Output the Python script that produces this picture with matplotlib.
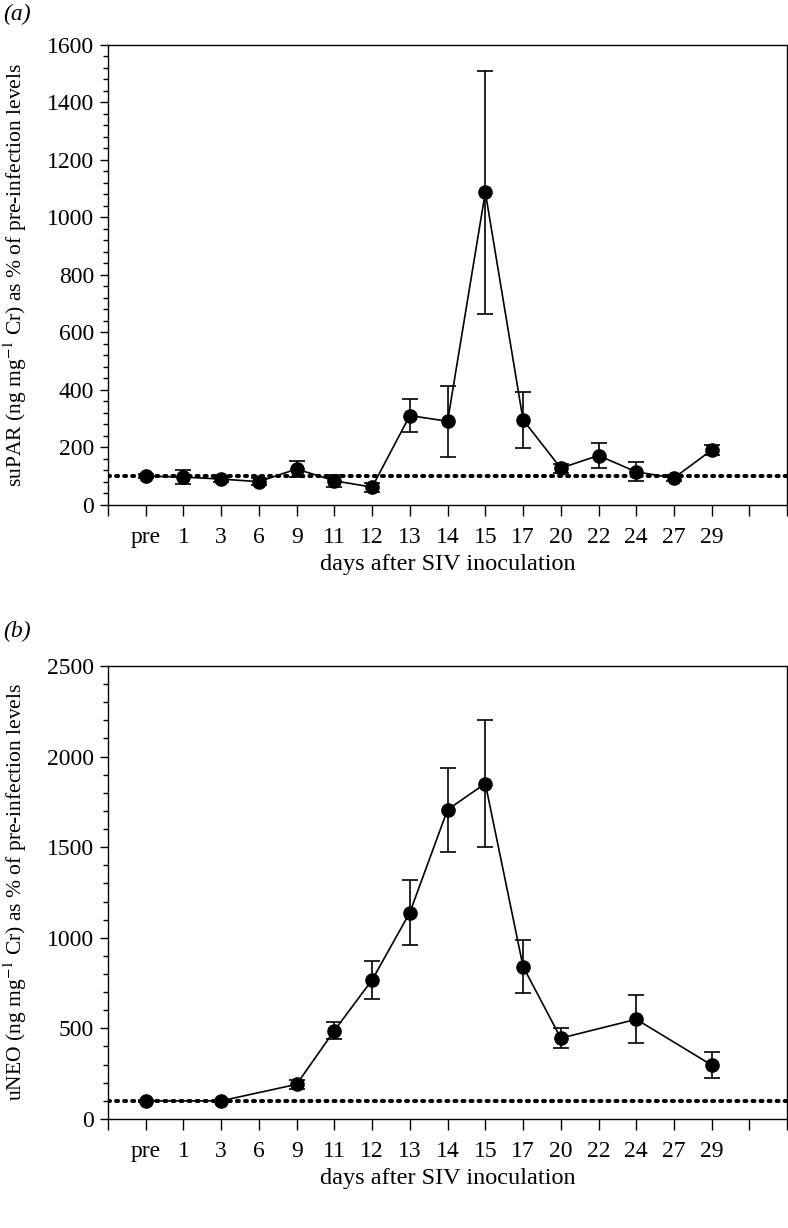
import numpy as np
import matplotlib
matplotlib.use("Agg")
import matplotlib.pyplot as plt
from matplotlib.ticker import MultipleLocator

plt.rcParams['font.family'] = ['Liberation Serif', 'DejaVu Serif']
plt.rcParams['mathtext.fontset'] = 'stix'

days = ["pre", "1", "3", "6", "9", "11", "12", "13", "14", "15", "17", "20", "22", "24", "27", "29"]

# panel (a): suPAR
supar_days = ["pre", "1", "3", "6", "9", "11", "12", "13", "14", "15", "17", "20", "22", "24", "27", "29"]
supar_mean = [100, 97, 90, 81, 125, 84, 62, 311, 291, 1088, 296, 128, 172, 115, 94, 191]
supar_err = [6, 25, 10, 13, 27, 21, 16, 57, 124, 423, 98, 16, 44, 33, 10, 18]

# panel (b): uNEO
uneo_days = ["pre", "3", "9", "11", "12", "13", "14", "15", "17", "20", "24", "29"]
uneo_mean = [100, 100, 191, 488, 767, 1139, 1707, 1851, 841, 446, 550, 297]
uneo_err = [5, 5, 25, 47, 107, 177, 232, 352, 146, 54, 133, 71]

baseline = 100
FS = 17

fig = plt.figure(figsize=(7.88, 12.28), dpi=100)
ax1 = fig.add_axes([0.137, 0.5888, 0.862, 0.3746])
ax2 = fig.add_axes([0.137, 0.0888, 0.862, 0.3689])

def draw(ax, xd, mean, err, ylim, major, minor, ylabel):
    xi = [days.index(d) for d in xd]
    ax.axhline(baseline, color='black', linestyle=(0, (0.5, 1.5)), linewidth=2.9,
               dash_capstyle='round', zorder=1)
    ax.errorbar(xi, mean, yerr=err, fmt='-o', color='black', ecolor='black',
                elinewidth=1.2, linewidth=1.2, capsize=5.8, capthick=1.2,
                markersize=9.5, zorder=3)
    ax.set_xlim(-1, len(days) + 1)
    ax.set_ylim(*ylim)
    ax.set_xticks(range(-1, len(days) + 2))
    ax.set_xticklabels([''] + days + ['', ''])
    ax.yaxis.set_major_locator(MultipleLocator(major))
    ax.yaxis.set_minor_locator(MultipleLocator(minor))
    ax.tick_params(axis='both', which='major', labelsize=FS, direction='out', length=6, width=1)
    ax.tick_params(axis='y', which='major', pad=4)
    ax.tick_params(axis='y', which='minor', direction='out', length=3.5, width=1)
    ax.tick_params(axis='x', which='major', length=8, pad=8)
    for s in ax.spines.values():
        s.set_linewidth(1.0)
    ax.set_xlabel('days after SIV inoculation', fontsize=17.5, labelpad=4)
    ax.set_ylabel(ylabel, fontsize=15.5)
    ax.yaxis.set_label_coords(-0.116, 0.5)

draw(ax1, supar_days, supar_mean, supar_err, (0, 1600), 200, 40,
     r'suPAR (ng mg$^{-1}$ Cr) as % of pre-infection levels')
draw(ax2, uneo_days, uneo_mean, uneo_err, (0, 2500), 500, 100,
     r'uNEO (ng mg$^{-1}$ Cr) as % of pre-infection levels')

fig.text(0.004, 0.997, '(a)', fontsize=FS, style='italic', va='top', ha='left')
fig.text(0.004, 0.4943, '(b)', fontsize=FS, style='italic', va='top', ha='left')

fig.savefig('out.png', dpi=100)
